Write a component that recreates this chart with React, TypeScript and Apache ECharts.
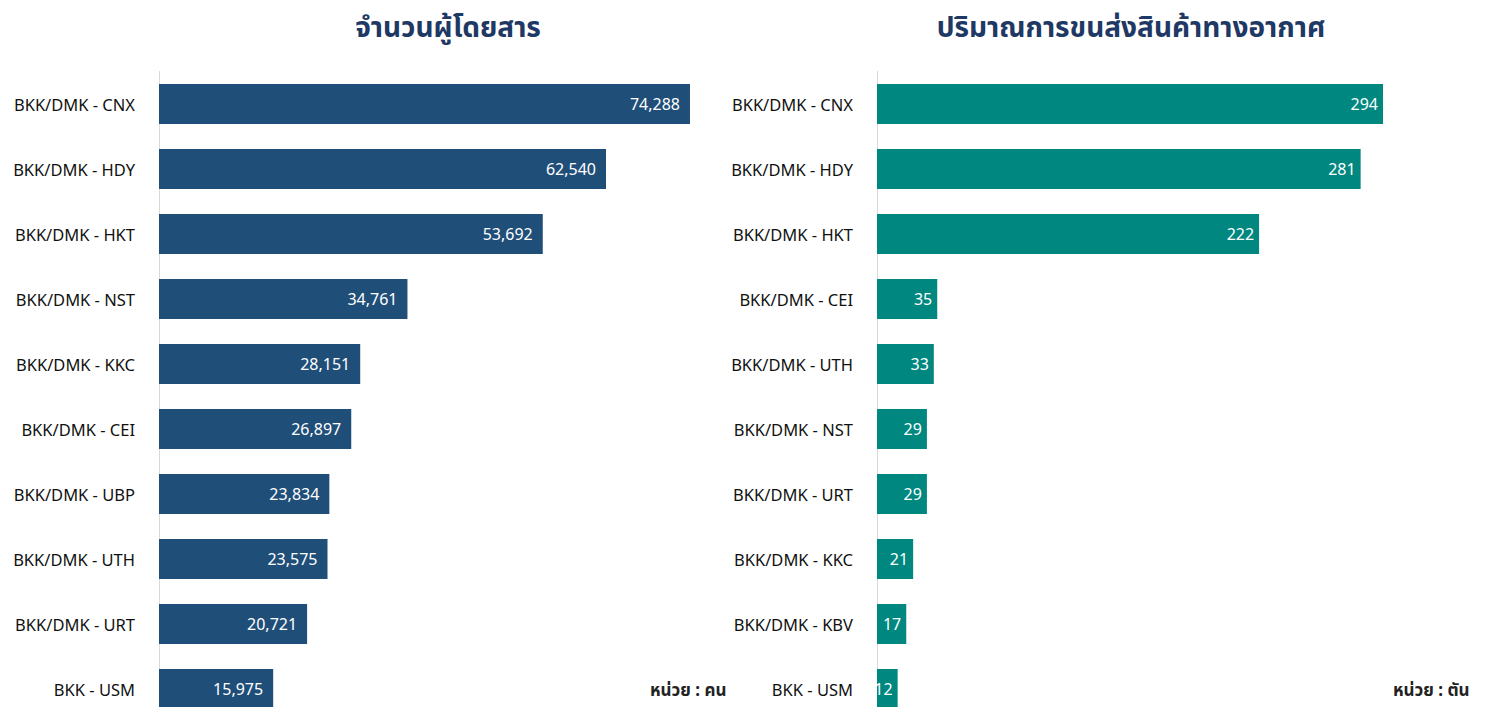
import React, { useEffect, useRef } from "react";
import * as echarts from "echarts";

const passengerRoutes = [
  "BKK/DMK - CNX",
  "BKK/DMK - HDY",
  "BKK/DMK - HKT",
  "BKK/DMK - NST",
  "BKK/DMK - KKC",
  "BKK/DMK - CEI",
  "BKK/DMK - UBP",
  "BKK/DMK - UTH",
  "BKK/DMK - URT",
  "BKK - USM",
];
const passengerValues = [74288, 62540, 53692, 34761, 28151, 26897, 23834, 23575, 20721, 15975];

const cargoRoutes = [
  "BKK/DMK - CNX",
  "BKK/DMK - HDY",
  "BKK/DMK - HKT",
  "BKK/DMK - CEI",
  "BKK/DMK - UTH",
  "BKK/DMK - NST",
  "BKK/DMK - URT",
  "BKK/DMK - KKC",
  "BKK/DMK - KBV",
  "BKK - USM",
];
const cargoValues = [294, 281, 222, 35, 33, 29, 29, 21, 17, 12];

const leftTitle = "จำนวนผู้โดยสาร";
const rightTitle = "ปริมาณการขนส่งสินค้าทางอากาศ";
const leftUnit = "หน่วย : คน";
const rightUnit = "หน่วย : ตัน";

const FONT = "'Noto Sans', 'Noto Sans Thai', Tahoma, sans-serif";

export default function App() {
  const ref = useRef<HTMLDivElement>(null);
  useEffect(() => {
    if (!ref.current) return;
    const chart = echarts.init(ref.current, null, { renderer: "svg" });
    const catAxis = (gridIndex: number, data: string[]) => ({
      type: "category",
      gridIndex,
      data,
      inverse: true,
      axisLine: { show: true, lineStyle: { color: "#d9d9d9", width: 1 } },
      axisTick: { show: false },
      axisLabel: {
        margin: 24,
        fontSize: 16.5,
        color: "#111",
        fontFamily: FONT,
        verticalAlign: "middle",
        padding: [0, 0, 6, 0],
      },
    });
    const valAxis = (gridIndex: number, max: number) => ({
      type: "value",
      gridIndex,
      min: 0,
      max,
      show: false,
      splitLine: { show: false },
    });
    const valueLabel = (distance: number) => ({
      show: true,
      position: "insideRight",
      distance,
      color: "#fff",
      fontSize: 16,
      fontFamily: FONT,
      padding: [0, 0, 4, 0],
      formatter: (p: any) => Number(p.value).toLocaleString("en-US"),
    });
    chart.setOption({
      animation: false,
      backgroundColor: "#ffffff",
      textStyle: { fontFamily: FONT },
      title: [
        {
          text: leftTitle,
          left: 443,
          top: 7,
          textAlign: "center",
          textStyle: { fontSize: 28, fontWeight: "bold", color: "#203864", fontFamily: FONT },
        },
        {
          text: rightTitle,
          left: 1126,
          top: 7,
          textAlign: "center",
          textStyle: { fontSize: 28, fontWeight: "bold", color: "#203864", fontFamily: FONT },
        },
      ],
      graphic: [
        {
          type: "text",
          left: 650,
          top: 681,
          style: { text: leftUnit, fontSize: 17, fontWeight: "bold", fill: "#222", fontFamily: FONT },
        },
        {
          type: "text",
          left: 1393,
          top: 681,
          style: { text: rightUnit, fontSize: 17, fontWeight: "bold", fill: "#222", fontFamily: FONT },
        },
      ],
      grid: [
        { left: 159, top: 71.5, width: 571.8, height: 650, containLabel: false },
        { left: 877, top: 71.5, width: 602.4, height: 650, containLabel: false },
      ],
      xAxis: [valAxis(0, 80000), valAxis(1, 350)],
      yAxis: [catAxis(0, passengerRoutes), catAxis(1, cargoRoutes)],
      series: [
        {
          type: "bar",
          xAxisIndex: 0,
          yAxisIndex: 0,
          data: passengerValues,
          barWidth: 40,
          itemStyle: { color: "#1F4E79" },
          label: valueLabel(10),
        },
        {
          type: "bar",
          xAxisIndex: 1,
          yAxisIndex: 1,
          data: cargoValues,
          barWidth: 40,
          itemStyle: { color: "#00877F" },
          label: valueLabel(5),
        },
      ],
    });
    return () => chart.dispose();
  }, []);
  return (
    <div
      ref={ref}
      style={{ position: "fixed", left: 0, top: 0, width: 1486, height: 740 }}
    />
  );
}
